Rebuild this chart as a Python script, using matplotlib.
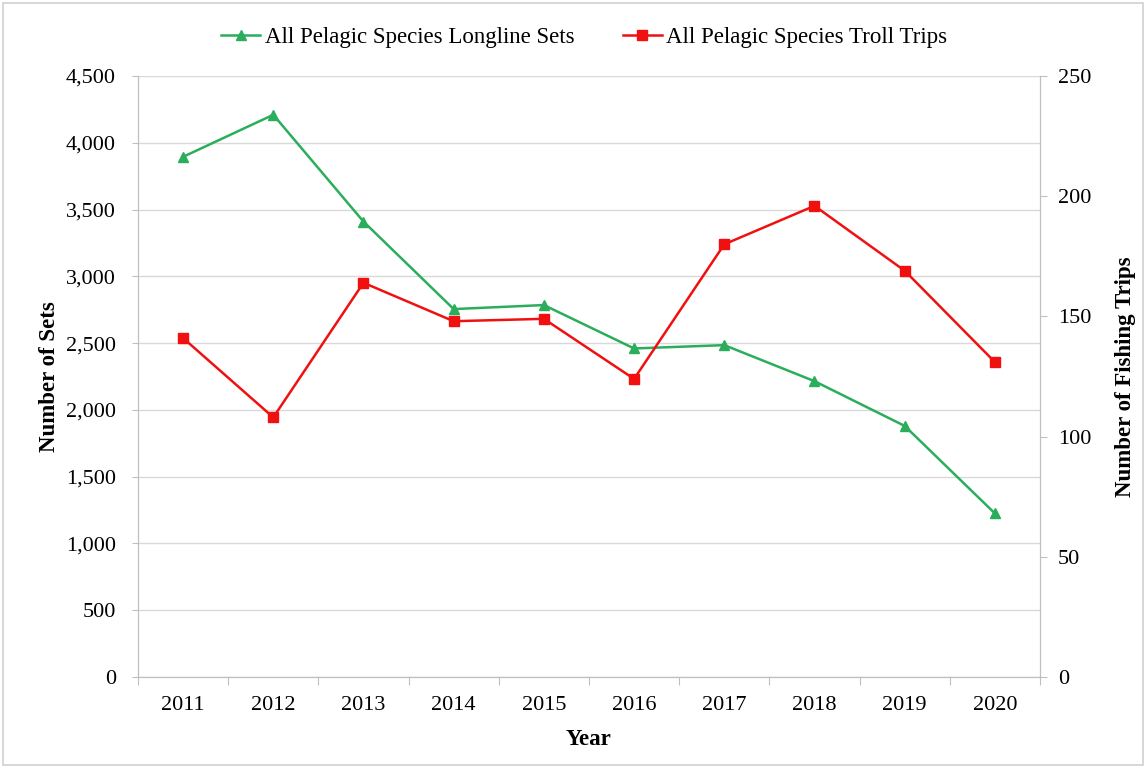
import matplotlib.pyplot as plt
import numpy as np

years = [2011, 2012, 2013, 2014, 2015, 2016, 2017, 2018, 2019, 2020]
longline_sets = [3895, 4210, 3410, 2755, 2785, 2460, 2485, 2215, 1880, 1225]
troll_trips = [141, 108, 164, 148, 149, 124, 180, 196, 169, 131]

plt.rcParams['font.family'] = ['Liberation Serif', 'DejaVu Serif']
green = '#2BAE5C'
red = '#F01010'
grey = '#BFBFBF'
fs = 16

fig = plt.figure(figsize=(11.46, 7.68), dpi=100)
ax = fig.add_axes([0.1204, 0.1185, 0.7871, 0.7825])
ax2 = ax.twinx()

x = np.arange(len(years))
l1, = ax.plot(x, longline_sets, color=green, marker='^', markersize=7, lw=1.8,
              label='All Pelagic Species Longline Sets')
l2, = ax2.plot(x, troll_trips, color=red, marker='s', markersize=7, lw=1.8,
               label='All Pelagic Species Troll Trips')

ax.set_xlim(-0.5, len(years) - 0.5)
ax.set_ylim(0, 4500)
ax2.set_ylim(0, 250)
ax.set_yticks(range(0, 4501, 500))
ax.set_yticklabels([f'{v:,}' for v in range(0, 4501, 500)])
ax2.set_yticks(range(0, 251, 50))

# category axis: ticks between years, labels centred
ax.set_xticks(np.arange(-0.5, len(years), 1.0))
ax.set_xticklabels([])
ax.set_xticks(x, minor=True)
ax.set_xticklabels([str(y) for y in years], minor=True)
ax.tick_params(axis='x', which='minor', length=0, pad=14, labelsize=fs)
ax.tick_params(axis='x', which='major', length=6, color=grey, direction='out')
ax.tick_params(axis='y', length=4, color=grey, labelsize=fs, pad=12)
ax2.tick_params(axis='y', length=5, color=grey, labelsize=fs, pad=8)

ax.grid(axis='y', color='#D9D9D9', lw=1)
ax.set_axisbelow(True)
for a in (ax, ax2):
    a.spines['top'].set_visible(False)
    a.spines['left'].set_color(grey)
    a.spines['right'].set_color(grey)
    a.spines['bottom'].set_color(grey)

ax.set_xlabel('Year', fontsize=16.5, fontweight='bold', labelpad=10)
ax.set_ylabel('Number of Sets', fontsize=16.5, fontweight='bold', labelpad=4)
ax2.set_ylabel('Number of Fishing Trips', fontsize=16.5, fontweight='bold', labelpad=17)

fig.legend(handles=[l1, l2], loc='center', bbox_to_anchor=(0.51, 0.951), ncol=2,
           frameon=False, fontsize=16.5, handlelength=1.7, columnspacing=2.1,
           handletextpad=0.2)

fig.patches.append(plt.Rectangle((0.003, 0.004), 0.994, 0.992, transform=fig.transFigure,
                                 fill=False, edgecolor='#D0D0D0', lw=1.2))

fig.savefig('out.png', dpi=100)
